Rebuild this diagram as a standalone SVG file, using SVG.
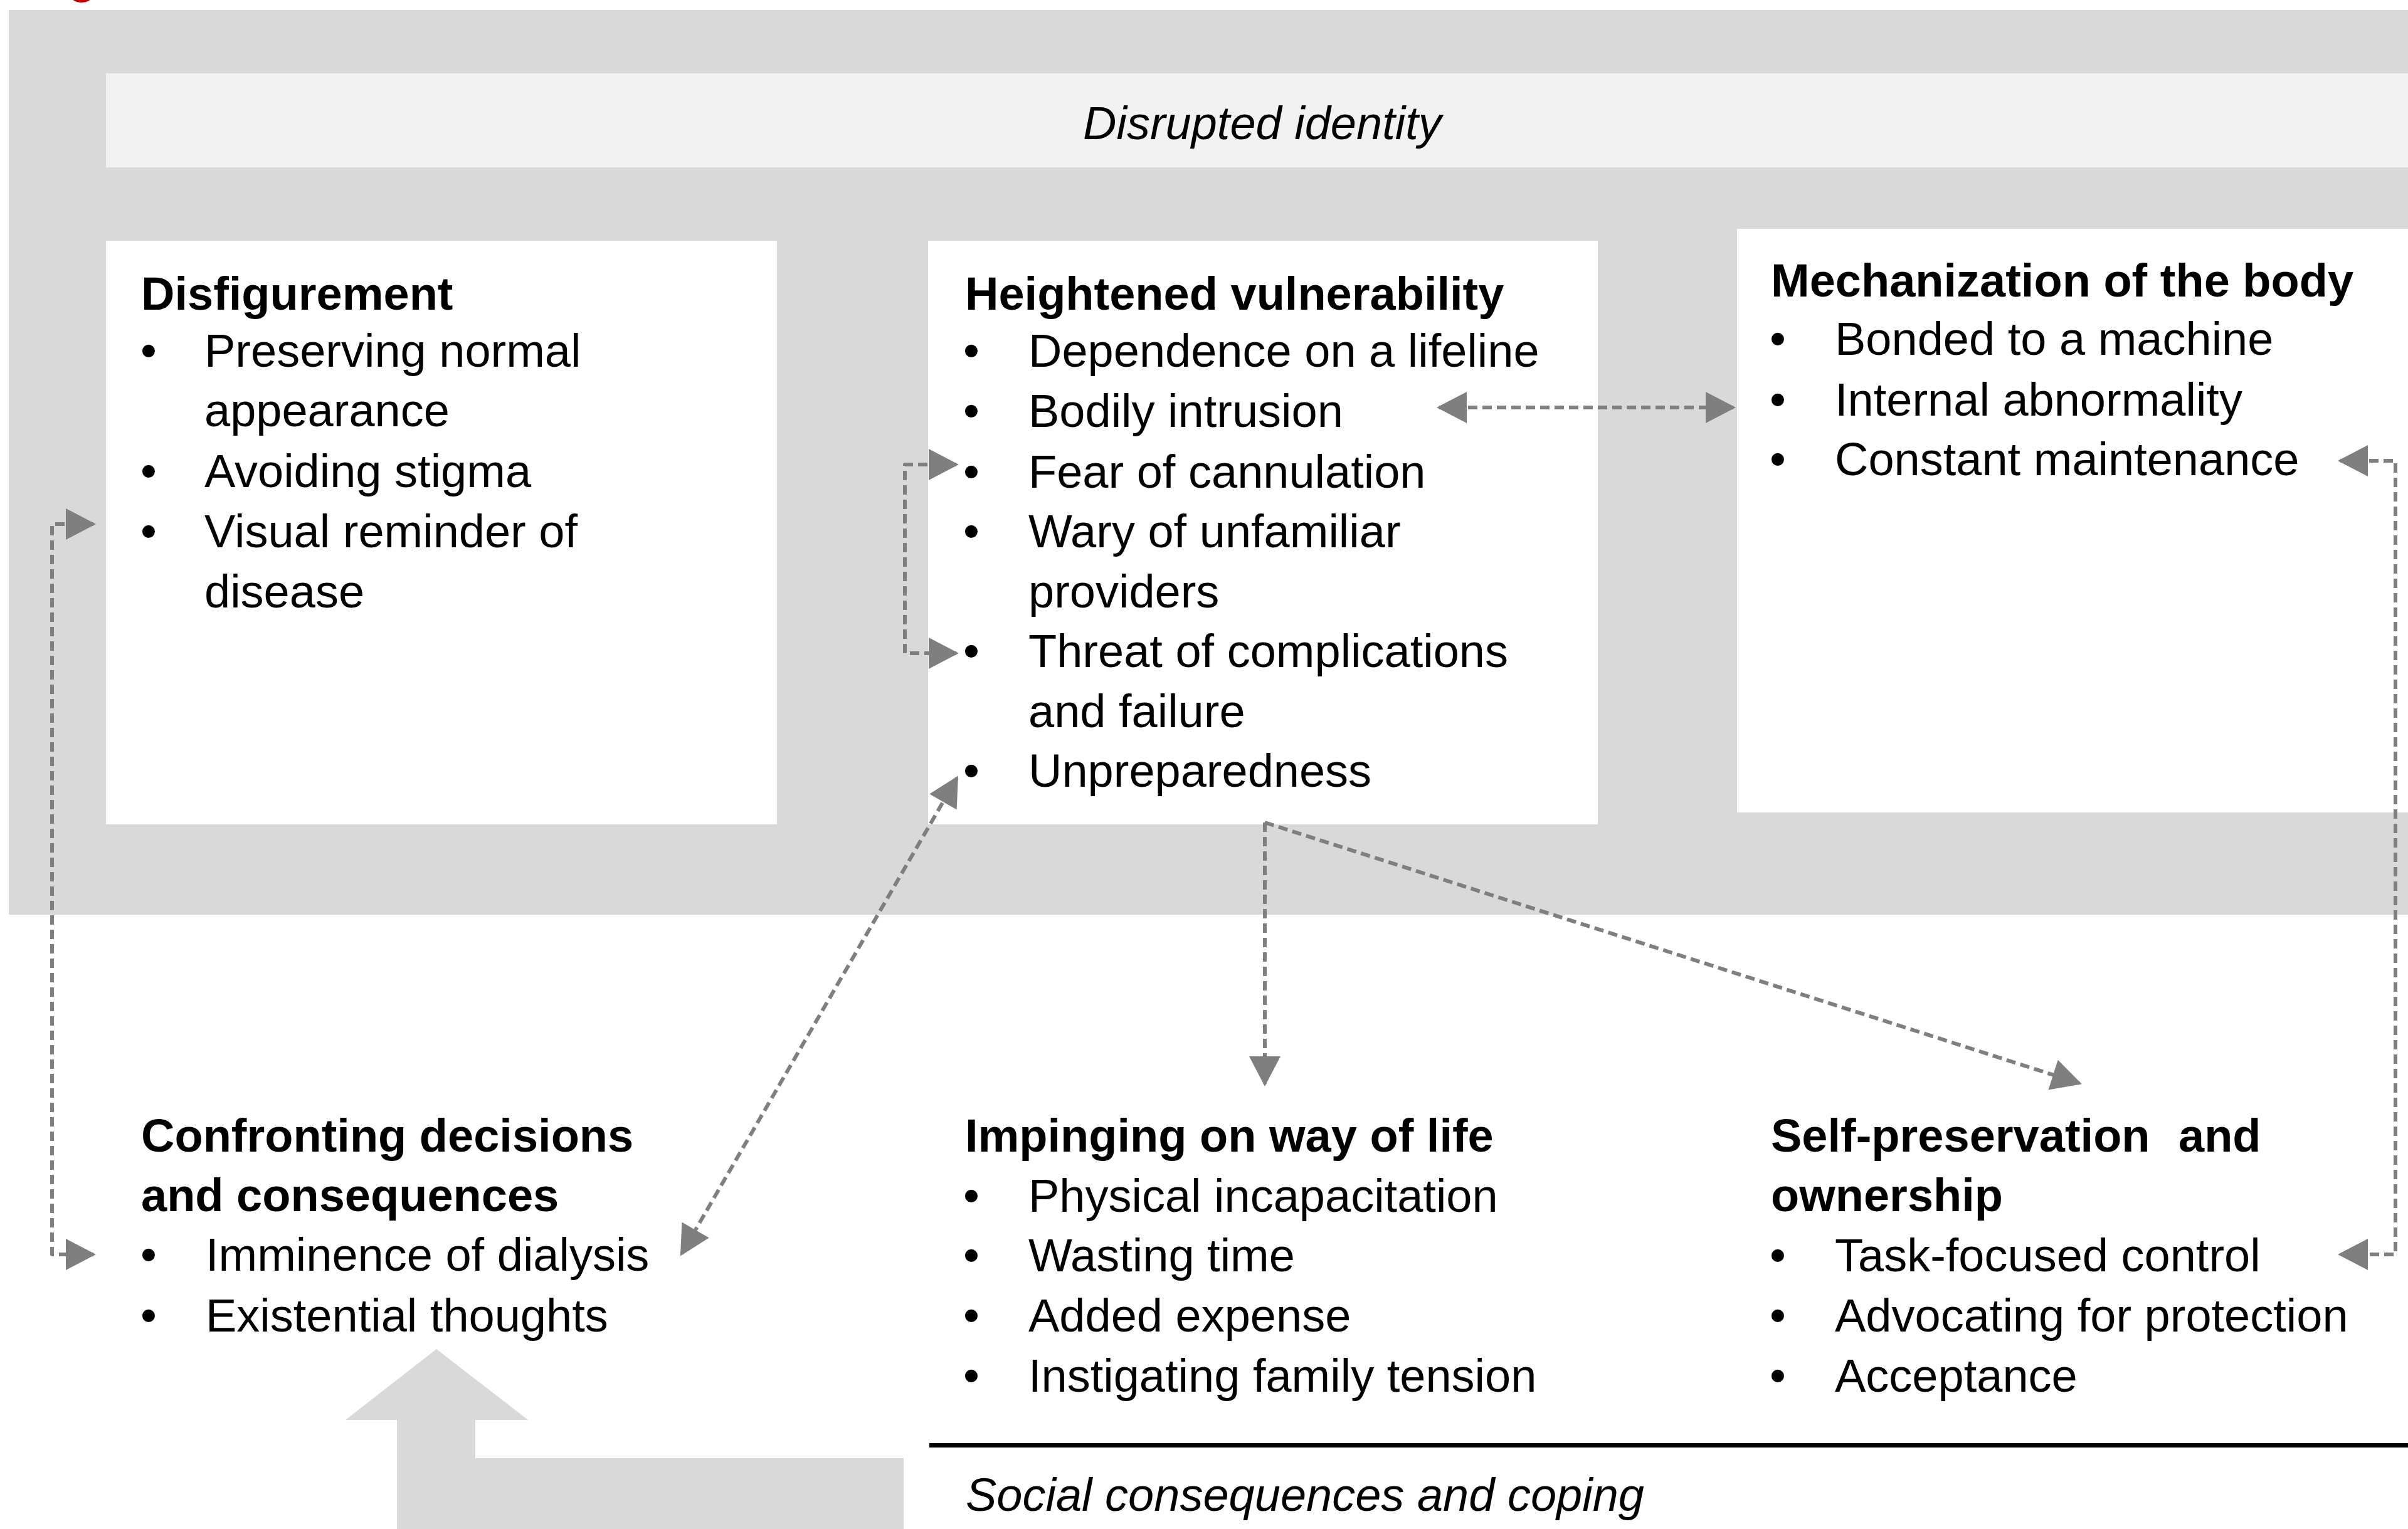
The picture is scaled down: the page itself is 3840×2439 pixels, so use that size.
<svg xmlns="http://www.w3.org/2000/svg" width="3840" height="2439" viewBox="0 0 3840 2439">
  <style>
    text { font-family: "Liberation Sans", Arial, sans-serif; font-size: 74px; fill: #000; }
    .title { font-weight: bold; }
    .band { font-style: italic; }
    .box { fill: #FFFFFF; }
    .conn { fill: none; stroke: #7F7F7F; stroke-width: 6; stroke-dasharray: 15 8; stroke-linejoin: round; }
  </style>
  <defs>
    <marker id="head" markerUnits="userSpaceOnUse" markerWidth="48" markerHeight="50" refX="44" refY="25" orient="auto-start-reverse" overflow="visible">
      <path d="M0,0 L48,25 L0,50 z" fill="#7F7F7F"/>
    </marker>
  </defs>

  <rect width="3840" height="2439" fill="#FFFFFF"/>
  <!-- red mark at the top edge -->
  <ellipse cx="130" cy="-8" rx="18" ry="12" fill="#C00000"/>

  <!-- shaded panel holding the identity themes -->
  <g id="identity-panel">
    <rect x="14" y="16" width="3826" height="1443" fill="#D9D9D9"/>
    <rect x="169" y="117" width="3671" height="150" fill="#F2F2F2"/>
    <text class="band" x="1727" y="222">Disrupted identity</text>
  </g>

  <!-- social consequences band -->
  <g id="social-band">
    <polygon points="1441,2326 758,2326 758,2265 842,2265 696,2152 551,2265 633,2265 633,2439 1441,2439" fill="#D9D9D9"/>
    <rect x="1482" y="2302" width="2358" height="7" fill="#000"/>
    <text class="band" x="1540" y="2410">Social consequences and coping</text>
  </g>

  <g id="disfigurement">
    <rect class="box" x="169" y="384" width="1070" height="931"/>
    <text class="title" x="225" y="494">Disfigurement</text>
    <text x="224" y="585">•</text><text x="326" y="585">Preserving normal</text>
    <text x="326" y="680">appearance</text>
    <text x="224" y="777">•</text><text x="326" y="777">Avoiding stigma</text>
    <text x="224" y="873">•</text><text x="326" y="873">Visual reminder of</text>
    <text x="326" y="969">disease</text>
  </g>

  <g id="heightened-vulnerability">
    <rect class="box" x="1480" y="384" width="1068" height="931"/>
    <text class="title" x="1539" y="494">Heightened vulnerability</text>
    <text x="1536" y="585">•</text><text x="1640" y="585">Dependence on a lifeline</text>
    <text x="1536" y="681">•</text><text x="1640" y="681">Bodily intrusion</text>
    <text x="1536" y="778">•</text><text x="1640" y="778">Fear of cannulation</text>
    <text x="1536" y="873">•</text><text x="1640" y="873">Wary of unfamiliar</text>
    <text x="1640" y="969">providers</text>
    <text x="1536" y="1064">•</text><text x="1640" y="1064">Threat of complications</text>
    <text x="1640" y="1160">and failure</text>
    <text x="1536" y="1255">•</text><text x="1640" y="1255">Unpreparedness</text>
  </g>

  <g id="mechanization">
    <rect class="box" x="2770" y="365" width="1070" height="931"/>
    <text class="title" x="2824" y="473">Mechanization of the body</text>
    <text x="2822" y="566">•</text><text x="2926" y="566">Bonded to a machine</text>
    <text x="2822" y="663">•</text><text x="2926" y="663">Internal abnormality</text>
    <text x="2822" y="758">•</text><text x="2926" y="758">Constant maintenance</text>
  </g>

  <g id="confronting-decisions">
    <text class="title" x="225" y="1837">Confronting decisions</text>
    <text class="title" x="225" y="1932">and consequences</text>
    <text x="224" y="2027">•</text><text x="328" y="2027">Imminence of dialysis</text>
    <text x="224" y="2124">•</text><text x="328" y="2124">Existential thoughts</text>
  </g>

  <g id="impinging">
    <text class="title" x="1539" y="1837">Impinging on way of life</text>
    <text x="1536" y="1933">•</text><text x="1640" y="1933">Physical incapacitation</text>
    <text x="1536" y="2028">•</text><text x="1640" y="2028">Wasting time</text>
    <text x="1536" y="2124">•</text><text x="1640" y="2124">Added expense</text>
    <text x="1536" y="2220">•</text><text x="1640" y="2220">Instigating family tension</text>
  </g>

  <g id="self-preservation">
    <text class="title" x="2824" y="1837">Self-preservation<tspan x="3474">and</tspan></text>
    <text class="title" x="2824" y="1932">ownership</text>
    <text x="2822" y="2028">•</text><text x="2926" y="2028">Task-focused control</text>
    <text x="2822" y="2124">•</text><text x="2926" y="2124">Advocating for protection</text>
    <text x="2822" y="2220">•</text><text x="2926" y="2220">Acceptance</text>
  </g>

  <g id="connectors">
    <path class="conn" d="M149 836 H83 V2001 H149" marker-start="url(#head)" marker-end="url(#head)"/>
    <path class="conn" d="M1525 741 H1443 V1042 H1525" marker-start="url(#head)" marker-end="url(#head)"/>
    <path class="conn" d="M2295 650 H2764" marker-start="url(#head)" marker-end="url(#head)"/>
    <path class="conn" d="M3732 735 H3820 V2001 H3732" marker-start="url(#head)" marker-end="url(#head)"/>
    <path class="conn" d="M2017 1312 V1729" marker-end="url(#head)"/>
    <path class="conn" d="M2017 1312 L3316 1728" marker-end="url(#head)"/>
    <path class="conn" d="M1526 1241 L1087 2000" marker-start="url(#head)" marker-end="url(#head)"/>
  </g>
</svg>
